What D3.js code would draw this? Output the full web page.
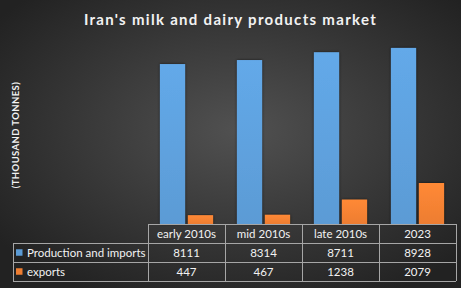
<!DOCTYPE html>
<html>
<head>
<meta charset="utf-8">
<script src="https://cdn.jsdelivr.net/npm/d3@7"></script>
<style>
  html, body { margin: 0; padding: 0; background: #2a2a2a; }
  svg { display: block; }
</style>
</head>
<body>
<svg id="chart"></svg>
<script>
// Chart data
const categories = ["early 2010s", "mid 2010s", "late 2010s", "2023"];
const seriesNames = ["Production and imports", "exports"];
const production = [8111, 8314, 8711, 8928];
const exportsVals = [447, 467, 1238, 2079];
const colors = ["#5b9bd5", "#ed7d31"];

const width = 461;
const height = 288;

const svg = d3.select("#chart")
    .attr("width", width)
    .attr("height", height);

// Background gradient
const defs = svg.append("defs");
const bg = defs.append("radialGradient").attr("id", "bg")
    .attr("cx", "52%").attr("cy", "45%").attr("r", "65%");
bg.append("stop").attr("offset", "0%").attr("stop-color", "#515151");
bg.append("stop").attr("offset", "100%").attr("stop-color", "#222222");

// Bar gradients
colors.forEach((c, i) => {
    const g = defs.append("linearGradient").attr("id", "bar" + i)
        .attr("x1", 0).attr("y1", 0).attr("x2", 0).attr("y2", 1);
    g.append("stop").attr("offset", "0%").attr("stop-color", d3.color(c).brighter(0.25));
    g.append("stop").attr("offset", "100%").attr("stop-color", c);
});
const shadow = defs.append("filter").attr("id", "shadow")
    .attr("x", "-30%").attr("y", "-10%").attr("width", "160%").attr("height", "130%");
shadow.append("feDropShadow").attr("dx", 0).attr("dy", 0).attr("stdDeviation", 1.5)
    .attr("flood-color", "#000").attr("flood-opacity", 0.6);

svg.append("rect").attr("width", width).attr("height", height).attr("fill", "url(#bg)");

// Title
svg.append("text")
    .attr("x", 230.5).attr("y", 25)
    .attr("text-anchor", "middle")
    .attr("fill", "#f2f2f2")
    .style("font-family", "Lato, sans-serif")
    .style("font-weight", "bold")
    .style("font-size", "15px")
    .style("letter-spacing", "1.3px")
    .text("Iran's milk and dairy products market");

// Y axis label
svg.append("text")
    .attr("transform", "translate(18.5,135) rotate(-90)")
    .attr("text-anchor", "middle")
    .attr("fill", "#f2f2f2")
    .style("font-family", "Lato, sans-serif")
    .style("font-weight", "bold")
    .style("font-size", "9.5px")
    .style("letter-spacing", "0.4px")
    .text("(THOUSAND TONNES)");

// Scales
const plotLeft = 148, plotRight = 456, baseline = 224;
const x = d3.scaleBand().domain(categories).range([plotLeft, plotRight]).paddingInner(0.31).paddingOuter(0.155);
const xs = d3.scaleBand().domain(seriesNames).range([0, x.bandwidth()]).padding(0.1).paddingOuter(0);
const y = d3.scaleLinear().domain([0, 10000]).range([baseline, 26.8]);

const values = [production, exportsVals];
const rows = categories.map((c, i) => ({ cat: c, vals: values.map((v, s) => ({ s, name: seriesNames[s], v: v[i] })) }));

const groups = svg.append("g").selectAll("g").data(rows).join("g")
    .attr("transform", d => `translate(${x(d.cat)},0)`);
groups.selectAll("rect").data(d => d.vals).join("rect")
    .attr("x", d => xs(d.name))
    .attr("width", xs.bandwidth())
    .attr("y", d => y(d.v))
    .attr("height", d => baseline - y(d.v))
    .attr("fill", d => `url(#bar${d.s})`)
    .attr("filter", "url(#shadow)");

// Data table
const step = x.step();
const rowY = [224, 243, 262.5, 281];
const legendLeft = 13;
const grid = svg.append("g").attr("stroke", "#a6a6a6").attr("stroke-width", 1).attr("fill", "none")
    .attr("shape-rendering", "crispEdges");
// horizontal lines
grid.append("line").attr("x1", plotLeft).attr("x2", plotRight).attr("y1", rowY[0]).attr("y2", rowY[0]);
[1, 2, 3].forEach(i => grid.append("line").attr("x1", legendLeft).attr("x2", plotRight).attr("y1", rowY[i]).attr("y2", rowY[i]));
// vertical lines
grid.append("line").attr("x1", legendLeft).attr("x2", legendLeft).attr("y1", rowY[1]).attr("y2", rowY[3]);
d3.range(categories.length + 1).forEach(i => {
    const xx = plotLeft + i * step;
    grid.append("line").attr("x1", xx).attr("x2", xx).attr("y1", rowY[0]).attr("y2", rowY[3]);
});

const textStyle = sel => sel
    .attr("fill", "#f2f2f2")
    .style("font-family", "Lato, sans-serif")
    .style("font-size", "11.5px");

// header
svg.append("g").selectAll("text").data(categories).join("text")
    .attr("x", d => plotLeft + categories.indexOf(d) * step + step / 2)
    .attr("y", (rowY[0] + rowY[1]) / 2 + 4)
    .attr("text-anchor", "middle")
    .text(d => d)
    .call(textStyle);

// rows
values.forEach((vals, s) => {
    const cy = (rowY[s + 1] + rowY[s + 2]) / 2;
    svg.append("rect").attr("x", 16).attr("y", cy - 3.5).attr("width", 6.5).attr("height", 6.5).attr("fill", colors[s]);
    svg.append("text").attr("x", 27).attr("y", cy + 3.8).text(seriesNames[s]).call(textStyle);
    svg.append("g").selectAll("text").data(vals).join("text")
        .attr("x", (d, i) => plotLeft + i * step + step / 2)
        .attr("y", cy + 4)
        .attr("text-anchor", "middle")
        .text(d => d)
        .call(textStyle);
});
</script>
</body>
</html>
